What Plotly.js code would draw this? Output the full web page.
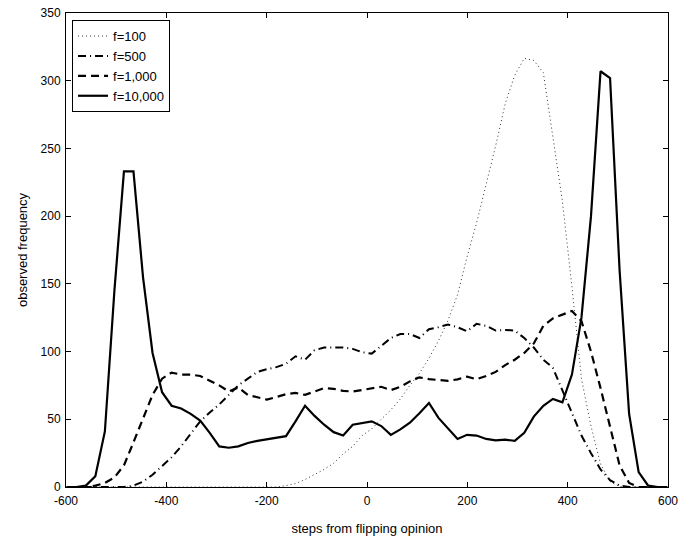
<!DOCTYPE html>
<html>
<head>
<meta charset="utf-8">
<script src="https://cdn.plot.ly/plotly-3.0.1.min.js"></script>
<style>html,body{margin:0;padding:0;background:#fff;}#chart{width:692px;height:536px;}</style>
</head>
<body>
<div id="chart"></div>
<script>
// Bin centres: steps from flipping opinion
const steps = [-598.5, -579.5, -560.5, -541.5, -522.5, -503.5, -484.5, -465.5, -446.5, -427.5,
  -408.5, -389.5, -370.5, -351.5, -332.5, -313.5, -294.5, -275.5, -256.5, -237.5,
  -218.5, -199.5, -180.5, -161.5, -142.5, -123.5, -104.5, -85.5, -66.5, -47.5,
  -28.5, -9.5, 9.5, 28.5, 47.5, 66.5, 85.5, 104.5, 123.5, 142.5,
  161.5, 180.5, 199.5, 218.5, 237.5, 256.5, 275.5, 294.5, 313.5, 332.5,
  351.5, 370.5, 389.5, 408.5, 427.5, 446.5, 465.5, 484.5, 503.5, 522.5,
  541.5, 560.5, 579.5, 598.5];

const f100 = [0, 0, 0, 0, 0, 0, 0, 0, 0, 0,
  0, 0, 0, 0, 0, 0, 0, 0, 0, 0,
  0, 0, 0, 1, 2.5, 5.5, 9, 13, 17.5, 24.5,
  30, 38, 43, 50, 57, 65, 75, 84, 95, 108,
  123, 142, 170, 195, 223, 252, 283, 304, 316.5, 315,
  306, 260, 211, 148, 80, 45, 17, 4, 0.5, 0,
  0, 0, 0, 0];

const f500 = [0, 0, 0, 0, 0, 0, 0, 1, 4, 9,
  15.5, 22, 30, 39, 48.5, 55, 61, 68, 75, 80,
  85, 87, 88.5, 91, 96.5, 94, 101, 103, 103, 103,
  102, 99.5, 98.5, 104.5, 110, 113, 113, 110, 116.5, 118,
  120, 118, 115, 120.5, 119, 115.5, 116, 115.5, 110, 103,
  94, 88, 71, 55, 38, 25, 13, 5, 1, 0,
  0, 0, 0, 0];

const f1000 = [0, 0, 0, 1, 3, 7, 16, 33, 50, 68,
  80, 84.5, 83, 83, 82, 78.5, 75, 70.5, 73.5, 68,
  66, 64.5, 66.5, 68.5, 69.5, 68, 70.5, 73, 72.5, 71,
  70.5, 71.5, 73, 74, 71.5, 74, 78, 81, 79.6, 79,
  78.4, 79.5, 81.5, 79.6, 82, 85, 90, 94, 99, 106,
  119, 124.5, 127.5, 130, 122.5, 100, 73, 45, 16, 3,
  0, 0, 0, 0];

const f10000 = [0, 0, 1, 8, 41, 145, 233, 233, 155, 99,
  70, 60, 58, 54, 49, 40, 30, 29, 30, 32.5,
  34, 35, 36, 37.5, 48.5, 60, 52.5, 46, 40.5, 38,
  46, 47.5, 48.5, 45, 38.5, 42.5, 47.5, 54.5, 62, 51,
  43, 35.5, 38.5, 38, 35.5, 34.5, 35, 34, 40, 52,
  60, 65, 62.5, 83, 125, 200, 307, 302, 160, 54,
  11, 1, 0, 0];

const seriesNames = ['f=100', 'f=500', 'f=1,000', 'f=10,000'];
const xTicks = [-600, -400, -200, 0, 200, 400, 600];
const yTicks = [0, 50, 100, 150, 200, 250, 300, 350];

const FONT = 'Liberation Sans, Arial, Helvetica, sans-serif';

const traces = [
  {x: steps, y: f100, name: seriesNames[0], mode: 'lines',
   line: {color: '#333', width: 1, dash: '1px,3px'}},
  {x: steps, y: f500, name: seriesNames[1], mode: 'lines',
   line: {color: '#000', width: 2, dash: '8px,4px,1px,4px'}},
  {x: steps, y: f1000, name: seriesNames[2], mode: 'lines',
   line: {color: '#000', width: 2.2, dash: '8px,5px'}},
  {x: steps, y: f10000, name: seriesNames[3], mode: 'lines',
   line: {color: '#000', width: 2.2}}
];

const axisCommon = {
  showgrid: false, zeroline: false, showline: true, linecolor: '#000', linewidth: 1,
  mirror: 'ticks', ticks: 'inside', ticklen: 5, tickcolor: '#000', tickwidth: 1,
  tickfont: {family: FONT, size: 12, color: '#000'}
};

const layout = {
  width: 692, height: 536,
  margin: {l: 66, r: 24, t: 13, b: 49},
  paper_bgcolor: '#fff', plot_bgcolor: '#fff',
  font: {family: FONT, color: '#000'},
  showlegend: true,
  legend: {x: 0.01, y: 0.985, xanchor: 'left', yanchor: 'top',
    bordercolor: '#000', borderwidth: 1, bgcolor: '#fff',
    font: {family: FONT, size: 13, color: '#000'}, tracegroupgap: 0},
  xaxis: Object.assign({}, axisCommon, {
    range: [-600, 600], tickvals: xTicks, ticktext: xTicks.map(String),
    ticklabelstandoff: 3,
    title: {text: 'steps from flipping opinion', font: {family: FONT, size: 13, color: '#000'}, standoff: 16}
  }),
  yaxis: Object.assign({}, axisCommon, {
    range: [0, 350], tickvals: yTicks, ticktext: yTicks.map(String),
    ticklabelstandoff: 2,
    title: {text: 'observed frequency', font: {family: FONT, size: 13, color: '#000'}, standoff: 10}
  })
};

Plotly.newPlot('chart', traces, layout, {displayModeBar: false, staticPlot: true});
</script>
</body>
</html>
